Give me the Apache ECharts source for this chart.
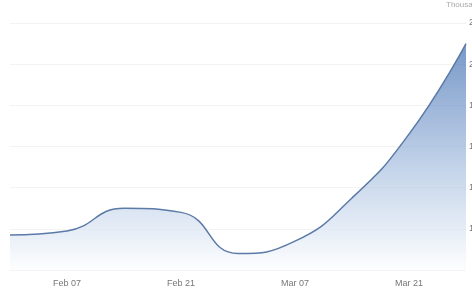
<!DOCTYPE html>
<html>
<head>
<meta charset="utf-8">
<script src="https://cdn.jsdelivr.net/npm/echarts@6/dist/echarts.min.js"></script>
<style>
  html, body { margin: 0; padding: 0; background: #fff; }
  #chart { width: 472px; height: 297px; }
</style>
</head>
<body>
<div id="chart"></div>
<script>
// weekly readings, thousands
const dates = ['2021-01-31', '2021-02-07', '2021-02-14', '2021-02-21', '2021-02-28',
  '2021-03-07', '2021-03-14', '2021-03-21', '2021-03-28']
const values = [1.17, 1.19, 1.30, 1.28, 1.08, 1.14, 1.35, 1.66, 2.10]
const tickDays = [7, 21, 35, 49]
const monthNames = ['Jan', 'Feb', 'Mar', 'Apr']

const DAY = 86400000
const start = Date.parse(dates[0])
const points = dates.map((d, i) => [(Date.parse(d) - start) / DAY, values[i]])

function dayLabel (n) {
  const d = new Date(start + n * DAY)
  return monthNames[d.getUTCMonth()] + ' ' + String(d.getUTCDate()).padStart(2, '0')
}

const font = '"Liberation Sans Narrow", "Liberation Sans", Arial, sans-serif'
const chart = echarts.init(document.getElementById('chart'))
chart.setOption({
  animation: false,
  title: {
    text: 'Thousands',
    left: 446,
    top: 1,
    padding: 0,
    textStyle: { color: '#aaa', fontSize: 8, fontWeight: 'normal', fontFamily: font }
  },
  grid: { left: 10, right: 6, top: 23, bottom: 27, containLabel: false, outerBoundsMode: 'none' },
  xAxis: {
    type: 'value',
    min: 0,
    max: 56,
    interval: 7,
    axisLine: { show: false },
    axisTick: { show: false },
    splitLine: { show: false },
    axisLabel: {
      margin: 9,
      color: '#777',
      fontSize: 9,
      fontFamily: font,
      formatter: v => tickDays.includes(v) ? dayLabel(v) : ''
    }
  },
  yAxis: {
    type: 'value',
    position: 'right',
    min: 1.0,
    max: 2.2,
    interval: 0.2,
    axisLine: { show: false },
    axisTick: { show: false },
    axisLabel: {
      margin: 3,
      color: '#777',
      fontSize: 9,
      fontFamily: font,
      formatter: v => v === 1 ? '' : v.toFixed(1)
    },
    splitLine: { lineStyle: { color: '#f3f3f3' } }
  },
  series: [{
    type: 'line',
    data: points,
    smooth: 0.5,
    symbol: 'none',
    lineStyle: { color: '#5b7aa6', width: 1.5 },
    areaStyle: {
      color: new echarts.graphic.LinearGradient(0, 0, 0, 1, [
        { offset: 0, color: '#3d6cb0' },
        { offset: 0.55, color: '#a9c0e0' },
        { offset: 1, color: '#fbfcfe' }
      ])
    }
  }]
})
</script>
</body>
</html>
